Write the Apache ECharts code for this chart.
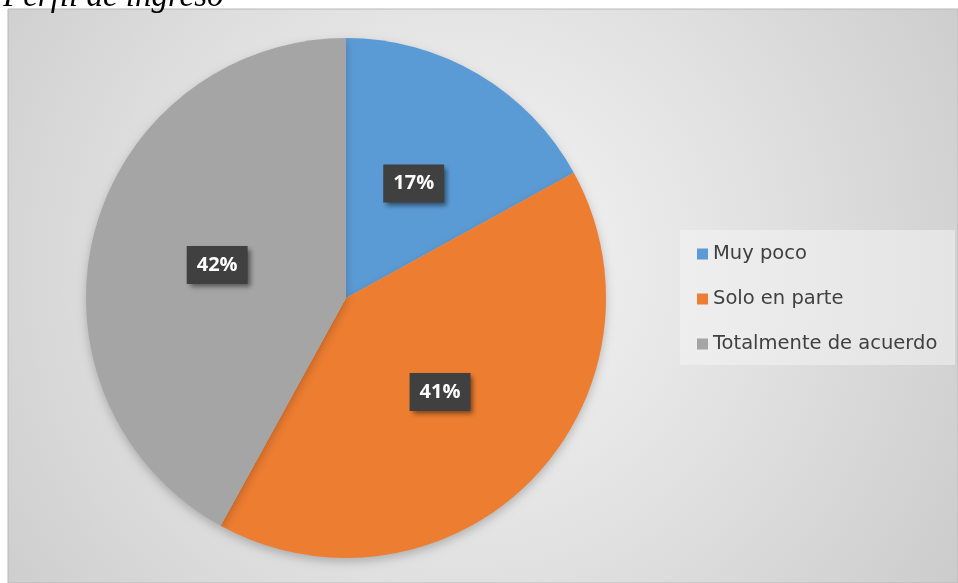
<!DOCTYPE html>
<html><head><meta charset="utf-8">
<script src="https://cdn.jsdelivr.net/npm/echarts@6/dist/echarts.min.js"></script>
<style>html,body{margin:0;padding:0;background:#fff;}#c{width:958px;height:583px;}</style>
</head><body><div id="c"></div>
<script>
const titleText = 'Perfil de ingreso';
const categories = ['Muy poco', 'Solo en parte', 'Totalmente de acuerdo'];
const values = [17, 41, 42];
const colors = ['#5B9BD5', '#ED7D31', '#A5A5A5'];

const chart = echarts.init(document.getElementById('c'), null, {renderer: 'canvas'});
chart.setOption({
  animation: false,
  graphic: [
    {type: 'rect', z: -10, shape: {x: 8, y: 9, width: 950, height: 574},
     style: {fill: {type: 'radial', x: 0.48, y: 0.45, r: 1.1,
       colorStops: [{offset: 0, color: '#f6f6f6'}, {offset: 0.5, color: '#e0e0e0'}, {offset: 1, color: '#c8c8c8'}]},
       stroke: '#b8b8b8', lineWidth: 1}},
    {type: 'rect', z: -5, shape: {x: 680, y: 230, width: 275, height: 135},
     style: {fill: 'rgba(245,245,245,0.5)'}}
  ],
  title: {text: titleText, left: -2, top: -24,
    textStyle: {fontFamily: 'Liberation Serif', fontStyle: 'italic', fontWeight: 'normal', fontSize: 33, color: '#000'}},
  legend: {orient: 'vertical', left: 692, top: 239, itemGap: 25, itemWidth: 11, itemHeight: 11,
    icon: 'rect', data: categories,
    textStyle: {fontFamily: 'DejaVu Sans', fontSize: 19.5, color: '#404040', padding: [0,0,0,0]}},
  series: [{
    type: 'pie', center: [346, 298], radius: [0, 260], startAngle: 90, clockwise: true,
    data: categories.map((n, i) => ({name: n, value: values[i], itemStyle: {color: colors[i]}})),
    itemStyle: {shadowBlur: 10, shadowColor: 'rgba(0,0,0,0.22)', shadowOffsetY: 4},
    label: {show: true, position: 'inside', formatter: '{c}%',
      color: '#fff', fontFamily: 'Open Sans', fontWeight: 'bold', fontSize: 20,
      backgroundColor: '#404040', padding: [10, 10, 8, 10],
      shadowBlur: 5, shadowColor: 'rgba(0,0,0,0.5)', shadowOffsetX: 3, shadowOffsetY: 3},
    labelLine: {show: false}, emphasis: {disabled: true}
  }]
});
</script></body></html>
